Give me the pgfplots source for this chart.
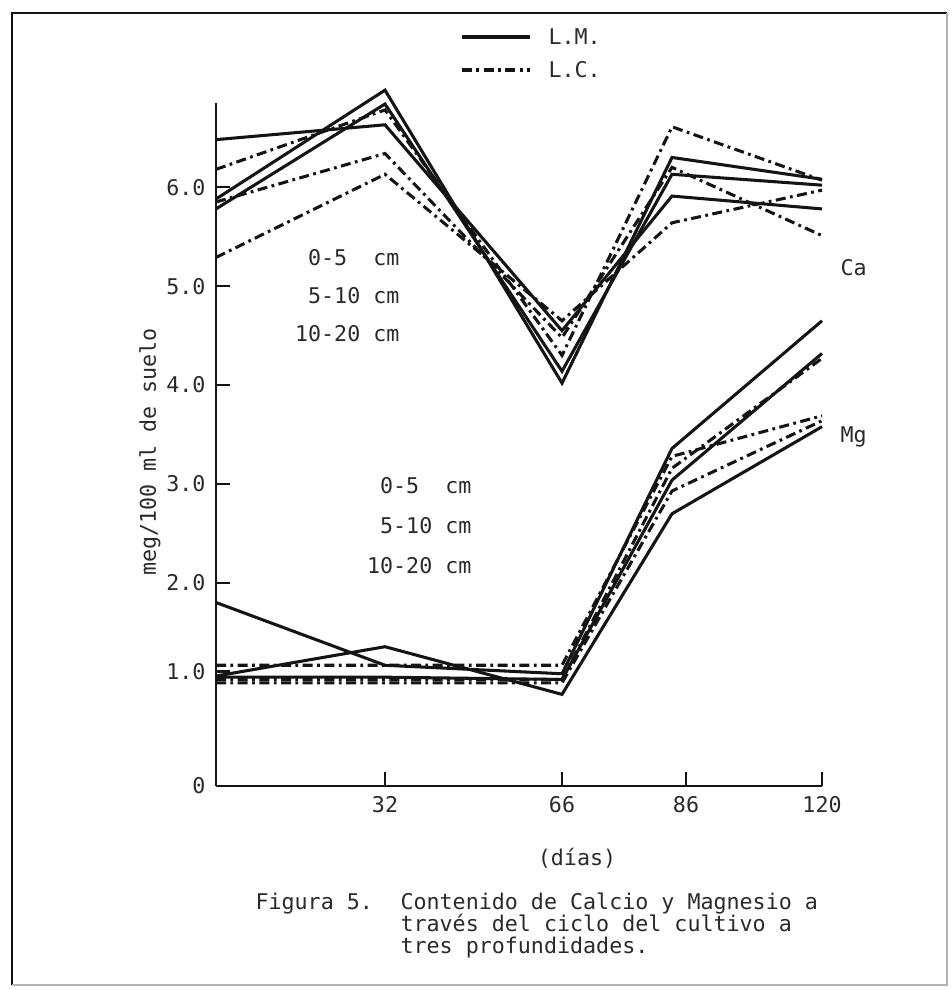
\documentclass[border=0pt]{standalone}
\usepackage{pgfplots}
\pgfplotsset{compat=1.18}
\usepackage{pgfplotstable}
\usepackage{fontspec}
\setmainfont{DejaVu Sans Mono}
\definecolor{ink}{HTML}{141414}
\definecolor{txt}{HTML}{2A2A2A}

% x = position of each sampling day along the hand-drawn axis (0,32,66,86,120 days)
\pgfplotstableread{
x   day CaA  CaB  CaC  CaD  CaE  CaF  MgP  MgQ  MgR  MgX  MgY  MgZ
0   0   5.88 5.78 6.48 6.18 5.85 5.29 1.78 0.96 0.95 1.07 0.93 0.90
169 32  6.98 6.84 6.63 6.78 6.34 6.13 1.07 1.28 0.95 1.07 0.93 0.90
346 66  4.02 4.14 4.55 4.30 4.48 4.65 0.98 0.80 0.93 1.07 0.93 0.90
456 86  6.30 6.13 5.91 6.61 6.20 5.64 3.36 2.70 3.04 3.28 3.16 2.93
606 120 6.08 6.02 5.78 6.07 5.51 5.97 4.65 3.58 4.32 3.69 4.27 3.64
}\data

\tikzset{
  lm/.style={ink, line width=1.1pt, line join=miter},
  lc/.style={ink, line width=1.1pt, dash pattern=on 3.6pt off 1.6pt on 1pt off 1.6pt},
}

\begin{document}
\fontsize{7.8}{9}\selectfont
\begin{tikzpicture}
\begin{scope}[x=0.36pt, y=-0.36pt]
  \useasboundingbox (0,0) rectangle (952,990);
  % frame of the scanned figure
  \draw[ink, line width=0.9pt] (12,985) -- (12,13) -- (947,13);
  \draw[gray!60, line width=0.6pt] (947,13) -- (947,985) -- (12,985);
  % legend
  \draw[lm] (462,37) -- (530,37);
  \node[anchor=west, text=txt, inner sep=0pt] at (548,37) {L.M.};
  \draw[lc] (462,70) -- (530,70);
  \node[anchor=west, text=txt, inner sep=0pt] at (548,70) {L.C.};
  % depth labels
  \node[anchor=east, text=txt, inner sep=0pt] at (400,258) {0-5\ \ cm};
  \node[anchor=east, text=txt, inner sep=0pt] at (400,296) {5-10 cm};
  \node[anchor=east, text=txt, inner sep=0pt] at (400,334) {10-20 cm};
  \node[anchor=east, text=txt, inner sep=0pt] at (472,486) {0-5\ \ cm};
  \node[anchor=east, text=txt, inner sep=0pt] at (472,526) {5-10 cm};
  \node[anchor=east, text=txt, inner sep=0pt] at (472,566) {10-20 cm};
  % element labels
  \node[anchor=west, text=txt, inner sep=0pt] at (840,268) {Ca};
  \node[anchor=west, text=txt, inner sep=0pt] at (840,437) {Mg};
  % axis titles
  \node[rotate=90, text=txt, inner sep=0pt] at (150,452) {meg/100 ml de suelo};
  \node[text=txt, inner sep=0pt] at (577,858) {(días)};
  % caption
  \node[anchor=base west, text=txt, inner sep=0pt] at (255,909) {Figura 5.};
  \node[anchor=base west, text=txt, inner sep=0pt] at (400,909) {Contenido de Calcio y Magnesio a};
  \node[anchor=base west, text=txt, inner sep=0pt] at (400,931) {través del ciclo del cultivo a};
  \node[anchor=base west, text=txt, inner sep=0pt] at (400,953) {tres profundidades.};
\end{scope}

\begin{axis}[
  at={(77.76pt,-282.96pt)}, anchor=south west,
  scale only axis, width=218.16pt, height=245.88pt,
  xmin=0, xmax=606, ymin=0, ymax=6.85,
  y coord trafo/.code={\pgfmathparse{#1<1 ? #1*114 : (#1<2 ? 114+(#1-1)*88 : 202+(#1-2)*98.5)}},
  y coord inv trafo/.code={\pgfmathparse{#1<114 ? #1/114 : (#1<202 ? 1+(#1-114)/88 : 2+(#1-202)/98.5)}},
  axis lines*=left,
  axis line style={ink, line width=0.9pt},
  xtick={169,346,470,606}, xticklabels={32,66,86,120},
  ytick={0,1,2,3,4,5,6}, yticklabels={0,1.0,2.0,3.0,4.0,5.0,6.0},
  tick align=inside, major tick length=5pt,
  tick style={ink, line width=0.9pt},
  tick label style={font=\fontsize{7.8}{9}\selectfont, text=txt},
  yticklabel style={xshift=-1pt},
  xticklabel style={yshift=-1pt},
  clip=false,
]
  \addplot[lm] table[x=x, y=CaA] {\data};
  \addplot[lm] table[x=x, y=CaB] {\data};
  \addplot[lm] table[x=x, y=CaC] {\data};
  \addplot[lc] table[x=x, y=CaD] {\data};
  \addplot[lc] table[x=x, y=CaE] {\data};
  \addplot[lc] table[x=x, y=CaF] {\data};
  \addplot[lm] table[x=x, y=MgP] {\data};
  \addplot[lm] table[x=x, y=MgQ] {\data};
  \addplot[lm] table[x=x, y=MgR] {\data};
  \addplot[lc] table[x=x, y=MgX] {\data};
  \addplot[lc] table[x=x, y=MgY] {\data};
  \addplot[lc] table[x=x, y=MgZ] {\data};
\end{axis}
\end{tikzpicture}
\end{document}
